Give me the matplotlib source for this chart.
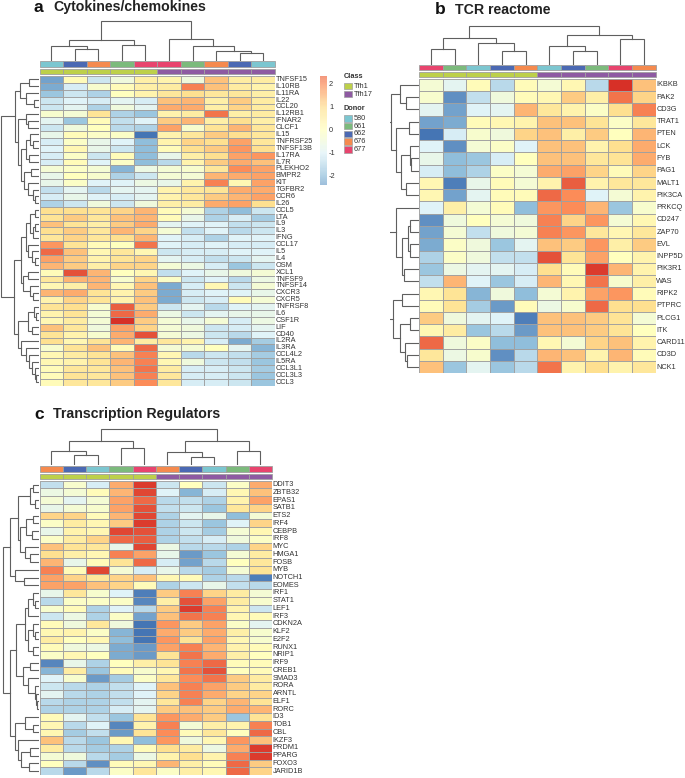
import numpy as np
from matplotlib import pyplot as plt
from matplotlib.colors import LinearSegmentedColormap
from matplotlib.patches import Rectangle

W, H = 685, 778

plt.rcParams['font.family'] = ['Liberation Sans', 'DejaVu Sans']

# heatmap a
a_genes = ['TNFSF15', 'IL10RB', 'IL11RA', 'IL22', 'CCL20', 'IL12RB1', 'IFNAR2', 'CLCF1', 'IL15', 'TNFRSF25',
           'TNFSF13B', 'IL17RA', 'IL7R', 'PLEKHO2', 'BMPR2', 'KIT', 'TGFBR2', 'CCR6', 'IL26', 'CCL5', 'LTA',
           'IL9', 'IL3', 'IFNG', 'CCL17', 'IL5', 'IL4', 'OSM', 'XCL1', 'TNFSF9', 'TNFSF14', 'CXCR3', 'CXCR5',
           'TNFRSF8', 'IL6', 'CSF1R', 'LIF', 'CD40', 'IL2RA', 'IL3RA', 'CCL4L2', 'IL5RA', 'CCL3L1', 'CCL3L3', 'CCL3']
a_values = [
    [-1.9, 0.1, -1.0, -0.4, 0.4, 0.3, -0.4, 1.1, 0.5, 0.5],
    [-1.8, -0.9, -0.2, 0.1, 0.4, 0.5, 1.7, 1.1, 0.5, 0.3],
    [-1.5, -1.0, -1.3, 0.0, 0.3, 0.6, 0.8, 0.6, 0.6, 0.4],
    [-1.0, -0.8, -0.9, -0.7, -0.9, 1.1, 1.2, 0.4, 1.0, 0.5],
    [-1.0, -0.7, -1.3, -0.4, -0.7, 1.3, 1.3, 0.4, 0.9, 0.5],
    [-0.2, -0.3, 0.7, -1.3, -1.5, 0.3, 0.5, 1.8, 0.4, 0.5],
    [-0.7, -1.5, 0.1, -1.1, -0.8, 1.0, 1.2, 0.4, 0.8, 0.4],
    [-1.0, -0.4, 0.0, -1.2, -1.3, 1.4, -0.2, 0.7, 1.2, 0.6],
    [-0.6, 0.1, -0.1, -0.1, -2.4, 0.3, 0.6, 1.0, 0.8, 0.6],
    [-0.9, -0.1, -0.6, -0.8, -1.6, 0.3, 0.9, 0.8, 1.4, 0.6],
    [-0.8, 0.2, -0.6, -1.0, -1.6, 0.1, 0.8, 1.0, 1.5, 0.8],
    [-0.9, -0.1, -1.0, 0.1, -1.6, -0.6, 0.4, 0.8, 1.4, 1.5],
    [-0.9, 0.1, -0.8, -0.1, -1.6, -1.2, 0.3, 1.0, 1.3, 1.1],
    [-0.3, -0.1, -0.3, -1.7, -0.5, -0.3, -0.2, 0.6, 1.6, 1.4],
    [-0.6, 0.0, -0.2, -1.3, -1.0, -0.3, -0.3, 1.2, 1.3, 1.4],
    [-0.6, -0.1, -0.8, -0.8, -0.5, -0.6, 0.3, 1.7, 0.2, 1.4],
    [-1.1, -0.7, -1.2, -0.7, -0.7, 0.3, 0.6, 0.7, 1.3, 1.3],
    [-0.9, -0.6, -0.8, -0.9, -0.7, 0.3, 0.6, 1.0, 1.2, 1.4],
    [-1.3, -1.0, -0.4, -1.0, -0.4, 0.4, 0.5, 1.3, 1.4, 0.8],
    [0.8, 0.8, 0.7, 0.9, 1.2, 0.1, -0.3, -1.3, -1.6, -1.0],
    [0.7, 1.0, 0.6, 1.1, 1.2, 0.1, -0.6, -1.3, -0.9, -1.4],
    [1.1, 0.7, 0.4, 1.0, 1.3, -0.7, -0.8, -0.8, -1.1, -1.0],
    [0.8, 1.0, 0.6, 1.2, 0.9, -0.3, -1.1, -0.8, -1.2, -1.0],
    [0.6, 0.9, 0.6, 0.8, 1.2, -0.8, -0.9, -1.3, -0.8, -0.8],
    [1.5, 0.7, 0.1, 0.0, 1.8, -0.8, -0.9, -0.8, -0.9, -0.9],
    [1.9, 1.1, 0.2, 0.6, 0.2, -1.0, -0.9, -0.9, -0.8, -0.8],
    [1.4, 1.0, 0.3, 0.7, 0.9, -0.7, -0.9, -1.1, -1.0, -0.7],
    [1.2, 1.0, 0.4, 0.9, 0.9, -0.3, -0.5, -0.9, -1.5, -1.0],
    [0.1, 2.1, 1.2, 0.0, 0.2, -1.1, -0.8, -0.6, -0.4, -0.3],
    [0.6, 1.2, 1.2, -0.2, 0.9, -0.1, -1.0, -0.8, -1.2, -0.5],
    [0.2, 0.4, 1.2, 0.2, 1.1, -1.8, -0.9, 0.2, -1.0, -0.3],
    [1.2, 1.3, 0.7, 0.3, 1.0, -1.8, -0.9, -0.8, -0.8, -0.6],
    [0.3, 0.9, 0.7, 0.3, 1.1, -1.8, -1.0, -0.9, 0.1, -0.3],
    [0.7, 0.8, -0.2, 2.0, 1.0, -1.0, -0.7, -1.2, -0.8, -0.7],
    [0.3, 0.7, -0.3, 1.9, 1.3, -0.5, -1.0, -0.7, -0.6, -0.6],
    [0.2, 0.5, -0.3, 2.4, 1.0, -0.3, -0.6, -0.3, -0.9, -0.5],
    [1.1, 0.6, -0.4, 1.4, 0.9, -0.3, -0.4, -1.0, -0.9, -0.7],
    [0.7, 0.3, -0.2, 1.3, 2.1, -0.3, -0.5, -1.0, -1.2, -0.8],
    [0.8, 0.2, 0.7, 1.2, 0.5, 0.6, 0.3, -0.9, -1.8, -1.4],
    [-0.2, 0.7, 1.1, 0.1, 1.9, -0.3, -0.3, 0.0, -0.7, -1.7],
    [0.2, 0.5, 0.7, 1.1, 1.7, 0.2, -1.2, -1.0, -1.1, -1.4],
    [0.2, 0.3, 0.7, 1.2, 1.7, 0.2, -0.4, -1.0, -1.1, -1.5],
    [0.1, 0.6, 0.6, 1.1, 1.8, 0.5, -0.9, -0.9, -1.0, -1.4],
    [0.1, 0.7, 0.6, 1.1, 1.7, 0.6, -0.9, -0.9, -1.0, -1.5],
    [0.1, 0.6, 0.6, 1.0, 1.6, 0.6, -0.9, -0.9, -1.0, -1.5],
]
a_donors = ['580', '662', '676', '661', '677', '677', '661', '676', '662', '580']
# trees: [height, left, right], 0 is a leaf
a_col_tree = [40, [20.7, [14.7, 0, [12, 0, 0]], [15.7, 0, 0]],
              [21.3, 0, [14.7, 0, [10, 0, [8, 0, 0]]]]]
a_row_tree = [38,
              [24,
               [18.7, [10, 0, 0], [12.7, 0, [5, 0, 0]]],
               [21, [13.5, 0, [11, 0, 0]],
                [17.7, [12.7, [9.3, 0, [6, 0, 0]], [10, 0, 0]],
                 [15, [7.7, 0, 0], [11, 0, [6, 0, [4.5, 0, 0]]]]]]],
              [25.3,
               [17.7,
                [13.5, [9.3, [4.5, 0, 0], [6, [4, 0, 0], 0]], [11.5, 0, [7, 0, [4, 0, 0]]]],
                [16, [11, 0, 0], [9.3, 0, [6, 0, 0]]]],
               [21,
                [11, [5, 0, [3.5, 0, 0]], [7, 0, 0]],
                [17.7, 0, [12.7, 0, [10, 0, [7, 0, [4.5, 0, [3, 0, 0]]]]]]]]]

# heatmap b
b_genes = ['IKBKB', 'PAK2', 'CD3G', 'TRAT1', 'PTEN', 'LCK', 'FYB', 'PAG1', 'MALT1', 'PIK3CA', 'PRKCQ', 'CD247',
           'ZAP70', 'EVL', 'INPP5D', 'PIK3R1', 'WAS', 'RIPK2', 'PTPRC', 'PLCG1', 'ITK', 'CARD11', 'CD3D', 'NCK1']
b_values = [
    [-0.3, -0.7, 0.1, -1.2, 0.1, -0.3, 0.2, -1.2, 2.4, 1.1],
    [-0.2, -2.1, -1.1, -0.4, 0.1, 0.2, 1.0, 0.4, 1.8, 0.9],
    [-0.7, -1.9, -0.8, -0.7, 1.2, 0.6, 0.3, -0.1, 0.8, 1.7],
    [-1.9, -1.8, 0.1, 0.2, 0.3, 1.1, 1.1, 0.7, -0.1, 0.6],
    [-2.4, -0.9, -0.2, -0.4, 0.9, 1.1, 0.4, 1.0, 0.0, 1.2],
    [-0.8, -2.1, -0.3, -0.1, -0.8, 1.1, 1.1, 0.3, 0.8, 1.3],
    [-0.6, -1.6, -1.5, -0.9, 0.0, 1.1, 1.1, 0.6, 0.7, 1.3],
    [-0.9, -1.6, -1.3, -0.1, -0.3, 1.3, 1.4, 0.9, 0.1, 0.9],
    [0.2, -2.3, -0.6, 0.1, -0.3, 0.3, 2.0, 0.3, 0.6, 0.6],
    [0.2, -1.9, -0.7, 0.1, 0.1, 1.9, 1.6, -0.8, -0.3, 0.3],
    [-0.8, 0.4, -0.3, 0.1, -1.6, 1.5, 1.6, 1.2, -1.5, -0.2],
    [-2.1, -0.4, 0.0, -0.3, -0.4, 1.7, 0.9, 1.5, -0.3, 0.2],
    [-1.9, -0.3, -1.1, -0.4, -0.3, 1.7, 1.5, 0.6, 0.2, 0.6],
    [-1.8, -0.1, -0.4, -1.5, -0.7, 1.1, 1.0, 1.5, 0.4, 1.0],
    [-1.3, -0.1, -0.4, -1.1, -1.1, 2.1, 0.7, 1.4, 0.0, 0.3],
    [-1.5, -0.5, -0.7, -0.7, -0.9, 0.8, 0.1, 2.3, 1.2, 0.3],
    [-1.1, 1.2, -0.8, -1.5, -0.9, 1.2, 0.2, 1.8, -0.2, 0.4],
    [0.2, 0.7, -1.7, -0.4, -1.6, -0.3, 0.3, 1.4, 1.5, 0.1],
    [0.1, 0.7, -1.4, -2.0, 0.1, -0.5, -0.2, 1.9, 0.8, 0.8],
    [1.0, -0.4, -0.7, -0.8, -2.3, 1.1, 1.1, 1.0, 0.7, -0.3],
    [0.2, 0.5, -1.5, -1.2, -2.0, 1.1, 1.1, 1.0, 0.7, 0.0],
    [1.9, -0.4, -0.1, -1.6, -1.6, 0.2, -0.3, 0.9, 1.1, 0.3],
    [0.6, -0.5, -0.2, -2.1, -1.2, 1.2, 1.1, 0.3, 1.2, 0.1],
    [1.1, -1.5, -0.7, -1.5, -1.2, 1.8, 0.3, 0.8, 0.3, 0.6],
]
b_donors = ['677', '661', '580', '662', '676', '580', '662', '661', '677', '676']
b_col_tree = [39, [26.7, [16, 0, 0], [21.7, 0, [13.3, 0, 0]]],
              [30, [18.7, 0, [13.7, 0, 0]], [26, 0, 0]]]
b_row_tree = [33,
              [31,
               [27.3, [18.3, 0, [13, 0, 0]],
                [23, [10, 0, 0], [17.3, [9, 0, [8, 0, 0]], [13, 0, 0]]]],
               [22.3, 0, [16.5, [10.7, [9, 0, 0], [8.3, 0, 0]], [15, 0, 0]]]],
              [25.7, [16.7, 0, 0], [18.3, [8.3, 0, 0], [14, 0, [11.7, 0, 0]]]]]

# heatmap c
c_genes = ['DDIT3', 'ZBTB32', 'EPAS1', 'SATB1', 'ETS2', 'IRF4', 'CEBPB', 'IRF8', 'MYC', 'HMGA1', 'FOSB', 'MYB',
           'NOTCH1', 'EOMES', 'IRF1', 'STAT1', 'LEF1', 'IRF3', 'CDKN2A', 'KLF2', 'E2F2', 'RUNX1', 'NRIP1', 'IRF9',
           'CREB1', 'SMAD3', 'RORA', 'ARNTL', 'ELF1', 'RORC', 'ID3', 'TOB1', 'CBL', 'IKZF3', 'PRDM1', 'PPARG',
           'FOXO3', 'JARID1B']
c_values = [
    [-1.1, -0.2, -0.9, 1.3, 2.3, -1.0, 0.0, -1.0, -0.1, 1.3],
    [-0.5, -0.3, 0.1, 1.2, 2.2, -0.8, -1.7, -0.9, 0.2, 1.1],
    [-0.3, -0.7, -0.3, 1.4, 1.9, -1.2, -1.1, -1.3, 0.3, 1.4],
    [-0.6, -0.3, -0.2, 1.4, 2.1, -1.1, -1.0, -1.5, 0.6, 0.9],
    [0.9, 0.9, 0.1, 1.2, 2.2, -1.3, -0.7, -0.6, -1.6, -0.3],
    [-0.1, 0.5, 0.2, 1.0, 2.3, -1.3, -1.0, -1.5, -0.8, 0.9],
    [-0.6, 0.3, 0.2, 2.2, 2.1, -1.3, -1.0, -1.4, -0.3, 0.2],
    [-0.1, 0.5, 0.9, 1.9, 2.0, -1.3, -1.1, -0.9, -0.4, -0.1],
    [1.1, 0.7, 0.6, -0.6, 2.2, -0.5, -1.2, -1.2, -1.3, 0.9],
    [0.8, 0.4, 0.2, 1.7, 1.4, -0.6, -2.0, -1.5, -0.3, 0.5],
    [1.2, -0.6, 0.1, 0.7, 1.9, -0.9, -1.9, -1.2, 0.0, 0.6],
    [1.7, 0.1, 2.2, -0.3, -0.9, -0.6, -1.2, -1.4, -0.3, 0.7],
    [1.4, 0.9, 0.6, 0.9, 1.1, 0.2, 0.1, -1.3, -1.2, -2.3],
    [1.4, 1.4, 1.1, 0.9, 0.1, -1.3, -1.0, -0.6, -1.1, -1.2],
    [-0.6, 0.6, -0.2, -0.8, -2.3, 1.0, 1.7, 0.9, 0.5, -0.3],
    [-1.2, -0.1, -0.1, -0.1, -2.2, 0.4, 2.1, 1.4, 0.5, -0.2],
    [-0.2, 0.1, -1.3, -0.8, -1.2, 1.0, 2.3, 1.7, 0.3, -1.0],
    [-1.0, -0.5, -1.3, -0.1, -1.9, 1.1, 1.8, 1.7, 0.2, 0.1],
    [0.1, -0.4, 0.6, -0.4, -2.4, 1.5, 1.0, 1.4, -0.1, -0.7],
    [0.2, 0.3, -0.1, -1.7, -2.4, 1.3, 1.0, 1.3, 0.4, -0.2],
    [0.5, 0.0, 0.2, -1.6, -2.4, 1.5, 0.7, 1.4, 0.2, -0.2],
    [0.1, -0.4, -0.5, -1.8, -2.0, 1.4, 1.7, 1.2, 0.3, 0.1],
    [-0.1, 0.2, 0.0, -1.8, -2.0, 0.7, 1.8, 1.3, 0.4, 0.0],
    [-2.2, -0.6, -1.3, 0.0, 0.4, 0.7, 1.7, 1.9, 0.1, 0.1],
    [-1.7, 0.5, -1.5, 0.1, -0.2, 0.2, 1.8, 2.1, 0.0, 0.1],
    [-0.8, -0.2, -2.0, -1.4, -0.1, 0.6, 1.6, 1.8, 1.0, 0.5],
    [-1.0, -1.2, -1.3, -1.1, -0.8, 1.1, 1.7, 1.4, 1.0, 0.5],
    [-0.7, -1.2, -1.3, -1.1, -0.8, 0.9, 1.7, 1.3, 0.9, 0.9],
    [-1.2, -1.3, -1.3, -1.1, -0.7, 0.6, 1.7, 0.9, 1.2, 0.7],
    [-1.3, -1.3, -1.3, -0.9, -0.7, 1.0, 1.1, 1.0, 1.3, 1.2],
    [0.1, -0.7, -1.1, -1.5, 0.7, 1.5, 1.3, 1.0, -1.5, 0.7],
    [0.2, -1.2, -0.8, -2.2, 0.3, 1.7, -0.3, 0.4, 0.3, 1.7],
    [0.2, -1.4, -1.1, -2.0, 0.7, 1.6, 0.1, 0.6, 0.0, 1.9],
    [1.1, -1.2, -1.5, 0.2, -1.6, 1.5, -0.4, 0.2, 1.5, 1.1],
    [0.5, -1.2, -1.4, -1.3, 0.1, 0.8, 0.5, -0.5, 1.3, 2.3],
    [-0.3, -0.4, -1.2, -1.4, -0.5, 0.3, 0.8, 0.3, 1.7, 2.3],
    [0.0, -1.2, -2.1, 0.1, 0.2, 1.2, 0.4, 0.1, 1.9, 1.0],
    [-1.2, -2.0, -1.2, -0.1, 0.6, -0.1, 0.4, 0.2, 1.9, 0.9],
]
c_donors = ['676', '662', '580', '661', '677', '676', '662', '580', '661', '677']
c_col_tree = [36.7, [25, [14, 0, [10.7, 0, 0]], [17, 0, 0]],
              [25, [13.3, 0, [8.3, 0, 0]], [14.7, 0, 0]]]
c_row_tree = [36,
              [29.3,
               [21.3, [9.3, [6, 0, 0], [4.3, 0, 0]],
                [18.7, [12.7, [6, 0, 0], [7.5, 0, 0]], [14.3, 0, [8.7, 0, 0]]]],
               [24.3, 0, [15.3, 0, 0]]],
              [29.3,
               [22.7,
                [14, [11, [6, 0, [4, 0, 0]], 0], [11, [6, 0, [4, 0, 0]], [6, 0, 0]]],
                [16, [8.7, 0, 0], [11, 0, [4.5, 0, [3.5, 0, [2.5, 0, 0]]]]]],
               [24.3,
                [14.3, 0, [6, 0, 0]],
                [21, 0, [17.7, [8.7, 0, 0], [10, 0, 0]]]]]]

classes = ['Tfh1'] * 5 + ['Tfh17'] * 5
class_colors = {'Tfh1': '#bdd04a', 'Tfh17': '#8e5aa2'}
donor_colors = {'580': '#7cc6d0', '661': '#7cba7c', '662': '#4b69b3', '676': '#f58a4e', '677': '#e8446e'}

cmap = LinearSegmentedColormap.from_list(
    'rdylbu7', ['#4575b4', '#91bfdb', '#e0f3f8', '#ffffbf', '#fee090', '#fc8d59', '#d73027'])
GRID = '#a0a0a0'
LINE = '#5f5f5f'
TEXT = '#333333'

fig = plt.figure(figsize=(W / 100, H / 100), dpi=100)


def px_axes(x0, y0, x1, y1):
    ax = fig.add_axes([x0 / W, 1 - y1 / H, (x1 - x0) / W, (y1 - y0) / H])
    ax.axis('off')
    return ax


def draw_tree(ax, node, state, vertical):
    if node == 0:
        state[0] += 1
        return state[0] - 0.5, 0
    h, left, right = node
    p0, h0 = draw_tree(ax, left, state, vertical)
    p1, h1 = draw_tree(ax, right, state, vertical)
    hs = [h0, h, h, h1]
    ps = [p0, p0, p1, p1]
    if vertical:
        ax.plot(ps, hs, color=LINE, lw=0.8, solid_joinstyle='miter')
    else:
        ax.plot(hs, ps, color=LINE, lw=0.8, solid_joinstyle='miter')
    return (p0 + p1) / 2, h


def annot_strip(x0, x1, y0, y1, colors):
    ax = px_axes(x0, y0, x1, y1)
    ax.set_xlim(0, len(colors))
    ax.set_ylim(0, 1)
    for i, c in enumerate(colors):
        ax.add_patch(Rectangle((i, 0), 1, 1, facecolor=c, edgecolor=GRID, lw=0.6, clip_on=False))


def heatmap(values, genes, donors, col_tree, row_tree, x0, x1, y0, y1, donor_y, class_y, col_top, row_left, fs):
    data = np.array(values)
    n_rows, n_cols = data.shape

    ax = px_axes(x0, y0, x1, y1)
    ax.pcolormesh(np.arange(n_cols + 1), np.arange(n_rows + 1), data, cmap=cmap, vmin=-2.4, vmax=2.4,
                  edgecolors=GRID, linewidth=0.65, antialiased=True)
    ax.set_xlim(0, n_cols)
    ax.set_ylim(n_rows, 0)
    for i, gene in enumerate(genes):
        ax.text(n_cols + 0.03, i + 0.5, gene, fontsize=fs, color=TEXT, va='center', ha='left')

    annot_strip(x0, x1, donor_y[0], donor_y[1], [donor_colors[d] for d in donors])
    annot_strip(x0, x1, class_y[0], class_y[1], [class_colors[c] for c in classes])

    top = px_axes(x0, col_top, x1, donor_y[0] - 0.5)
    top.set_xlim(0, n_cols)
    top.set_ylim(0, donor_y[0] - 0.5 - col_top)
    draw_tree(top, col_tree, [0], True)

    side = px_axes(row_left, y0, x0 - 0.5, y1)
    side.set_xlim(x0 - 0.5 - row_left, 0)
    side.set_ylim(n_rows, 0)
    draw_tree(side, row_tree, [0], False)


heatmap(a_values, a_genes, a_donors, a_col_tree, a_row_tree, 39.5, 275, 76, 385.7, (61, 66.5), (68.5, 74), 18, 0, 5.3)
heatmap(b_values, b_genes, b_donors, b_col_tree, b_row_tree, 419, 655.7, 78.7, 373.3, (65, 70), (72, 77), 22, 390, 5.3)
heatmap(c_values, c_genes, c_donors, c_col_tree, c_row_tree, 39.5, 272, 480.7, 775, (466, 471.5), (473.5, 478.7), 426, 0, 5.3)


def panel_title(letter, title, x_letter, x_title, y):
    fig.text(x_letter / W, 1 - y / H, letter, fontsize=12.5, fontweight='bold', va='center', color='#111111')
    fig.text(x_title / W, 1 - y / H, title, fontsize=10.2, fontweight='bold', va='center', color='#222222')


panel_title('a', 'Cytokines/chemokines', 33.5, 53, 7.5)
panel_title('b', 'TCR reactome', 435, 455, 10)
panel_title('c', 'Transcription Regulators', 34, 53, 414)

# colour key of panel a
bar = px_axes(320, 76, 326.7, 185)
levels = np.linspace(-2.36, 2.39, 100)
bar.pcolormesh([0, 1], np.append(levels, 2.44), levels[:, None], cmap=cmap, vmin=-3.0, vmax=3.0, alpha=0.7)
bar.set_xlim(0, 1)
bar.set_ylim(-2.36, 2.39)
for tick in [-2, -1, 0, 1, 2]:
    bar.text(1.35, tick, str(tick), fontsize=5.3, color=TEXT, va='center', ha='left')

# legends of panel a
fig.text(343.5 / W, 1 - 77 / H, 'Class', fontsize=5.3, fontweight='bold', color=TEXT, va='center')
fig.text(343.5 / W, 1 - 108 / H, 'Donor', fontsize=5.3, fontweight='bold', color=TEXT, va='center')
leg = px_axes(343, 80, 380, 156)
leg.set_xlim(343, 380)
leg.set_ylim(156, 80)
for i, name in enumerate(['Tfh1', 'Tfh17']):
    yy = 83 + i * 8
    leg.add_patch(Rectangle((344, yy), 8, 6, facecolor=class_colors[name], edgecolor=GRID, lw=0.5))
    leg.text(354, yy + 3, name, fontsize=5.3, color=TEXT, va='center')
for i, name in enumerate(donor_colors):
    yy = 115 + i * 7.8
    leg.add_patch(Rectangle((344, yy), 8, 6.5, facecolor=donor_colors[name], edgecolor=GRID, lw=0.5))
    leg.text(354, yy + 3.2, name, fontsize=5.3, color=TEXT, va='center')

fig.savefig('out.png', dpi=100)
